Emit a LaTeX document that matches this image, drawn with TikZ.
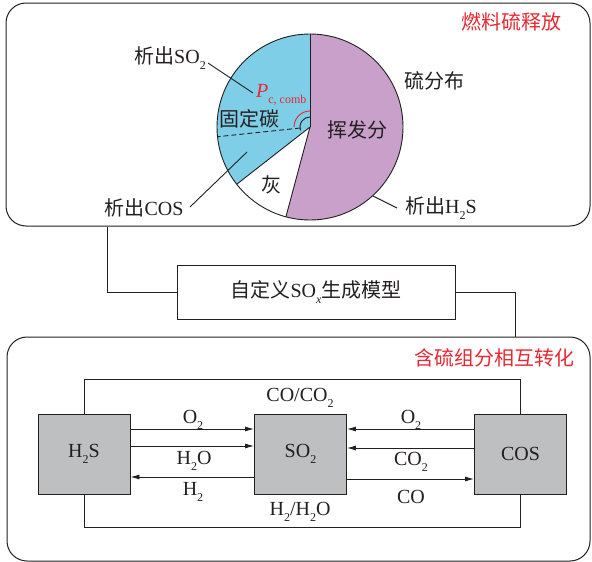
\documentclass[tikz,border=0pt]{standalone}
\usepackage{fontspec}
\setmainfont{Liberation Serif}
\newfontfamily\cjk{Noto Sans CJK SC}
\usetikzlibrary{arrows.meta}
\definecolor{pieblue}{RGB}{125,206,230}
\definecolor{piepurple}{RGB}{200,160,202}
\definecolor{boxgray}{RGB}{190,191,193}
\definecolor{txtred}{RGB}{232,40,50}
\definecolor{ink}{RGB}{35,31,32}
\newcommand\dn[1]{\raisebox{-0.28em}{\fontsize{12}{12}\selectfont #1}}
\begin{document}
\begin{tikzpicture}[x=1pt,y=-1pt,
  every node/.style={font=\fontsize{20}{24}\selectfont, inner sep=0pt, text=ink},
  cont/.style={draw=ink, line width=1pt, rounded corners=20pt, inner sep=0pt},
  gbox/.style={draw=ink, line width=0.9pt, fill=boxgray, minimum width=92pt, minimum height=80pt},
  ln/.style={draw=ink, line width=0.9pt},
  arr/.style={draw=ink, line width=0.9pt, -{Latex[length=9pt,width=5pt]}},
  redtxt/.style={text=txtred}
]
\useasboundingbox (0,0) rectangle (592,562);

% containers
\node[cont, minimum width=584pt, minimum height=223pt] (top) at (298,114.5) {};
\node[cont, minimum width=583pt, minimum height=224pt] (bot) at (298.5,449) {};
\node[draw=ink, line width=0.9pt, minimum width=278pt, minimum height=54pt] (model) at (316,292) {{\cjk 自定义}SO\dn{\textit{x}}{\cjk 生成模型}};

\coordinate (k1) at (107.5,0);
\coordinate (k2) at (515,0);
\draw[ln] (top.south -| k1) |- (model.west);
\draw[ln] (model.east) -| (bot.north -| k2);

% pie
\begin{scope}[shift={(310,127)}]
  \fill[pieblue] (0,0) -- (142:93) arc[start angle=142, end angle=270, radius=93] -- cycle;
  \fill[piepurple] (0,0) -- (-90:93) arc[start angle=-90, end angle=105, radius=93] -- cycle;
  \draw[ln] (0,0) circle[radius=93];
  \draw[ln] (0,0) -- (-90:93);
  \draw[ln] (0,0) -- (105:93);
  \draw[ln] (0,0) -- (142:93);
  \draw[ln, dashed, dash pattern=on 5pt off 3pt] (174:10) -- (174:93);
  \draw[ln] (160:10) arc[start angle=160, end angle=270, radius=10];
  \draw[draw=txtred, line width=0.9pt] (180:16) arc[start angle=180, end angle=270, radius=16];
\end{scope}

% pie labels
\node (lso2) at (170,58) {{\cjk 析出}SO\dn{2}};
\node (lcos) at (144,208) {{\cjk 析出}COS};
\node (lh2s) at (441,208) {{\cjk 析出}H\dn{2}S};
\node (ldist) at (434,81) {\cjk 硫分布};
\node (lfix) at (249.5,119) {\cjk 固定碳};
\node (lvol) at (357.5,130) {\cjk 挥发分};
\node (lash) at (271,185) {\cjk 灰};
\node[redtxt, anchor=west] (lp) at (256,95) {\textit{P}\dn{c, comb}};
\node[redtxt] (t1) at (511.5,22) {\cjk 燃料硫释放};

\coordinate (s1) at (208,63); \coordinate (e1) at (253,93);
\coordinate (s2) at (190,207); \coordinate (e2) at (247,152);
\coordinate (s3) at (397,208); \coordinate (e3) at (373,196);
\draw[ln] (s1) -- (e1);
\draw[ln] (s2) -- (e2);
\draw[ln] (s3) -- (e3);

% conversion network
\node[redtxt] (t2) at (494.5,358) {\cjk 含硫组分相互转化};
\node[gbox] (h2s) at (84,454) {H\dn{2}S};
\node[gbox] (so2) at (300.5,454) {SO\dn{2}};
\node[gbox] (cos) at (520.5,454) {COS};

\coordinate (ytop) at (0,379);
\coordinate (ybot) at (0,527);
\draw[ln] (h2s.north) -- (h2s.north |- ytop) -- (cos.north |- ytop) -- (cos.north);
\draw[ln] (h2s.south) -- (h2s.south |- ybot) -- (cos.south |- ybot) -- (cos.south);

\coordinate (a1) at (0,429);
\coordinate (a2) at (0,446);
\coordinate (a3) at (0,477);
\coordinate (b1) at (0,429);
\coordinate (b2) at (0,448);
\coordinate (b3) at (0,479);
\draw[arr] (h2s.east |- a1) -- (so2.west |- a1);
\draw[arr] (h2s.east |- a2) -- (so2.west |- a2);
\draw[arr] (so2.west |- a3) -- (h2s.east |- a3);
\draw[arr] (cos.west |- b1) -- (so2.east |- b1);
\draw[arr] (cos.west |- b2) -- (so2.east |- b2);
\draw[arr] (so2.east |- b3) -- (cos.west |- b3);

\node (lo2a) at (193,420) {O\dn{2}};
\node (lh2o) at (194,461) {H\dn{2}O};
\node (lh2) at (193,492) {H\dn{2}};
\node (lo2b) at (411,420) {O\dn{2}};
\node (lco2) at (411,462) {CO\dn{2}};
\node (lco) at (411,497) {CO};
\node (lcoco2) at (300,398) {CO/CO\dn{2}};
\node (lh2h2o) at (300,512) {H\dn{2}/H\dn{2}O};
\end{tikzpicture}
\end{document}
